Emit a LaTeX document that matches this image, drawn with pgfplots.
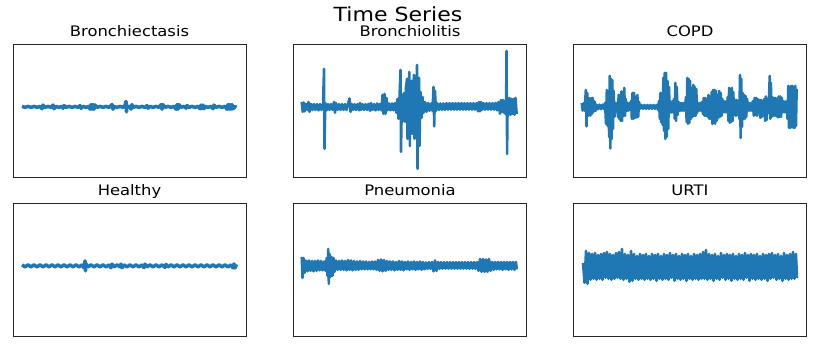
\documentclass[border=0pt]{standalone}
\usepackage{fontspec}
\setmainfont{DejaVu Sans}[FakeStretch=1.13]
\usepackage{pgfplots}
\pgfplotsset{compat=1.18}
\definecolor{mplblue}{HTML}{1F77B4}
\pgfplotsset{
  ts/.style={scale only axis, width=233pt, height=132.5pt,
    xmin=0, xmax=233, ymin=-70.3, ymax=62, ticks=none,
    axis line style={line width=0.9pt, black!85},
    title style={anchor=base, yshift=2.5pt, font=\fontsize{14.5}{17}\selectfont},
    anchor=north west},
  wave/.style={draw=mplblue, line width=2.5pt, line join=round, mark=none},
  flatwave/.style={draw=mplblue, line width=3.5pt, line join=round, mark=none}
}
\begin{document}
\begin{tikzpicture}
\path (0,0) rectangle (817pt,-343pt);
\node[anchor=base, font=\fontsize{19.5}{23}\selectfont] at (398pt,-21pt) {Time Series};

% Bronchiectasis
\begin{axis}[ts, at={(13pt,-44.8pt)}, title={Bronchiectasis}]
\addplot[flatwave] coordinates {
(9,0.5) (12,-0.5) (15,0.5) (18,-0.5) (21,0.5) (24,-0.5) (27,0.5) (29,-1.8) (30,1.8) (32,-0.5) (35,0.5) (38,-0.5) (40,1.8) (41,-1.8) (43,0.5) (46,-0.5) (49,0.5) (50,-1.4) (51,1.4) (53,-0.5) (56,0.5) (59,-0.5) (62,0.5) (65,-0.5) (67,1.3) (68,-1.4) (70,0.5) (73,-0.5) (76,0.5) (77,-2.3) (78,2.3) (79,-2.3) (80,2.3) (81,-2.3) (82,2) (84,-0.5) (87,0.5) (90,-0.5) (93,0.5) (96,-0.5) (99,2.3) (100,-2.3) (101,0.5) (104,-0.5) (107,0.5) (110,-0.5) (112,1.5) (113,5.5) (113.5,-5) (114,1.5) (115,-0.5) (117,0.5) (118,-2.3) (119,2.3) (120,-0.5) (123,0.5) (126,-0.5) (129,0.5) (132,-0.5) (134,1.3) (135,-1.3) (137,0.5) (140,-0.5) (143,0.5) (146,-0.5) (148,2.3) (149,-2.3) (150,2.3) (152,-0.5) (155,0.5) (158,-0.5) (161,0.5) (163,-2.3) (164,2.3) (165,-2.3) (166,2.3) (168,-0.5) (171,0.5) (173,-1.3) (174,1.3) (176,-0.5) (179,0.5) (182,-0.5) (185,0.5) (187,-1.8) (188,1.8) (189,-1.8) (190,1.8) (191,-1.8) (192,0.5) (195,-0.5) (198,0.5) (200,-1.8) (201,1.8) (203,-0.5) (206,0.5) (209,-0.5) (212,0.5) (214,-2.3) (215,2.3) (216,-2.3) (217,2.3) (218,-2.3) (219,2.3) (220,-2) (222,0.5) (223.5,-0.5)
};
\end{axis}

% Bronchiolitis
\begin{axis}[ts, at={(293.5pt,-44.8pt)}, title={Bronchiolitis}]
\addplot[wave] coordinates {
(8.2,5) (9.2,-5) (10.2,4.5) (11.2,-4.5) (12.5,3) (14,-3) (15,5) (16,-5) (17.5,3) (19,-3) (20.5,2.8) (22,-3) (23.5,2.8) (25,-3.5) (26.5,2.8) (28,-3) (29.5,3) (30.5,38) (31,-42) (31.8,4) (33,-3.5) (34.5,2.8) (36,-3) (37.5,2.8) (39,-3) (40.5,5) (41.5,-6) (42.5,4) (44,-3) (45.5,2.8) (47,-3) (48.5,2.8) (50,-3) (51.5,2.8) (53,-3) (54.5,3) (56,8.5) (57,-5) (58,3) (59.5,-3) (61,2.8) (62.5,-3) (64,2.8) (65.5,-3.5) (66.5,4) (67.5,-3) (69,2.8) (70.5,-3) (72,2.8) (73.5,-3) (75,3) (76.5,-4) (77.5,4) (79,-3) (80.5,2.8) (82,-3.5) (83.5,3.5) (85,-3) (86.5,3) (88,-3.5) (89,12) (90,-7) (91,13) (92,-7) (93,9) (94,-3.5) (95.5,3.5) (97,-3.5) (98.5,3.5) (100,-3.5) (101.5,4) (103,-6) (104,8) (105,-12) (106,10) (107,37) (107.5,-45) (108.5,12) (109.5,-14) (110.5,14) (111.5,-15) (112.5,20) (113.5,28) (114,-32) (115,20) (115.8,35) (116.3,-39) (117,22) (118,26) (118.5,-27) (119.5,18) (120.5,32) (121,-32) (122,20) (123,-25) (123.5,42) (124,-62) (124.5,25) (125.5,29) (126,-39) (127,15) (128,-11) (129,10) (130,-6) (131.5,5) (133,-5) (134.5,4) (136,-4) (137.5,3.5) (139,-4) (140,20) (140.7,-19.5) (141.5,16) (142.5,-4) (144,3.5) (145.5,-3) (147,3.5) (148.5,-3) (150,3.5) (151.5,-3) (153,3.8) (154.5,-2.8) (156,3.8) (157.5,-2.8) (159,3.8) (160.5,-2.8) (162,3.8) (163.5,-2.8) (165,3.8) (166.5,-2.8) (168,3.8) (169.5,-2.8) (171,3.8) (172.5,-2.8) (174,3.8) (175.5,-2.8) (177,3.8) (178.5,-2.8) (180,3.8) (181.5,-2.8) (183,3.8) (184.5,-4.5) (185.5,5) (186.5,-4.5) (187.5,5) (188.5,-3) (190,3.8) (191.5,-2.8) (193,3.8) (194.5,-2.8) (196,3.8) (197.5,-2.8) (199,3.8) (200.5,-2.8) (202,4) (203.5,-3.5) (205,5) (206.5,-7) (207.5,7) (208.5,-5) (209.5,7) (210.5,-6) (211.5,6) (212.5,-8) (213,56) (213.6,-47) (214.2,9) (215,-8) (216,9) (217,-8) (218,8) (219,-7) (220,8) (221,-8) (222,9) (223.2,-7)
};
\end{axis}

% COPD
\begin{axis}[ts, at={(573.5pt,-44.8pt)}, title={COPD}]
\addplot[wave] coordinates {
(8.2,3.8) (9.2,-3.8) (10.2,3.8) (11.2,-3.8) (12.3,17) (13,-19.5) (13.8,14) (14.8,-8.8) (15.8,8.8) (16.8,-8.8) (17.8,8.8) (18.5,-7) (19.2,9) (20,-5) (21,5.5) (22,-4) (23,2.3) (24.5,-2.3) (26,2.3) (27.5,-2.3) (29,2.3) (30.5,-2.3) (31.5,4) (32.5,-17) (33.3,17) (34.1,-19) (34.9,15) (35.6,-30) (36.2,31) (36.8,-41.5) (37.4,28) (38.1,-32) (38.8,27) (39.5,-22) (40.2,16) (41,-10) (41.8,4) (42.6,-4) (43.5,4) (44.4,-10) (45.1,12) (45.8,-12) (46.5,12) (47.2,-14) (47.9,15.5) (48.6,-14) (49.4,12) (50.1,-9) (50.8,19) (51.5,-9) (52.3,8) (53.2,-4) (54,4) (54.8,-4) (55.8,4) (56.8,-3) (57.6,6) (58.3,-12) (59,14) (59.8,-12) (60.6,14) (61.4,-11) (62.3,10) (63.1,-10.5) (63.9,12) (64.7,-10) (65.6,5) (66.5,-2) (68,2) (69.5,-2) (71,2) (72.5,-2) (74,2) (75.5,-2) (77,2) (78.5,-2) (80,2) (81.5,-2) (83,2) (84.5,-3) (85.5,6) (86.3,-12) (87,14) (87.7,-15.5) (88.4,14) (89.1,-18) (89.8,29) (90.5,-24) (91.2,34) (91.9,-32) (92.6,34) (93.3,-30) (94,26) (94.8,-22) (95.5,20) (96.3,-6) (97.1,5.5) (97.9,-5.5) (98.7,5.5) (99.5,-5.5) (100.4,8) (101.2,-12) (101.9,24) (102.6,-14) (103.3,20) (104.1,-8) (105,5) (105.8,-4) (106.6,4) (107.5,-4) (108.5,4) (109.5,-4) (110.5,4) (111.5,-4) (112.4,10) (113.1,-15) (113.8,29) (114.5,-17) (115.2,28) (115.9,-16) (116.6,26) (117.4,-12) (118.2,19) (119,-10) (119.8,22) (120.5,-9) (121.2,20) (122,-9) (122.8,18) (123.6,-6) (124.5,4) (125.5,-4) (126.5,4) (127.5,-4) (128.5,5) (129.4,-7) (130.2,9) (131,-9) (131.8,9) (132.6,-9) (133.4,8) (134.2,-10) (135,12) (135.8,-12) (136.6,10) (137.4,-12) (138.2,15) (138.9,-17) (139.6,17) (140.3,-16) (141,17) (141.7,-17) (142.4,16) (143.2,-14) (144,12) (144.8,-11) (145.6,16) (146.4,-10) (147.2,14) (148,-9) (148.9,8) (149.8,-5.5) (150.7,5.5) (151.6,-5.5) (152.5,5.5) (153.4,-5.5) (154.2,10) (154.9,-14) (155.6,19) (156.3,-16) (157,17) (157.7,-15) (158.4,19) (159.1,-14) (159.8,15) (160.6,-8) (161.5,7) (162.4,-9) (163.3,7) (164.2,-8) (165,6) (165.8,-12) (166.5,32) (167.1,-31) (167.8,28) (168.5,-20) (169.2,14) (169.9,-12) (170.6,12) (171.3,-12) (172,11) (172.8,-10) (173.6,8) (174.5,-4) (175.5,4) (176.5,-4) (177.5,4) (178.5,-4) (179.5,6) (180.3,-9) (181.1,9) (181.9,-8) (182.7,9) (183.5,-9) (184.3,8) (185.1,-6) (186,7) (186.8,-11) (187.6,7) (188.4,-10) (189.2,6) (190,-8) (190.8,8) (191.6,-14) (192.4,10.5) (193.2,-13) (194,8) (194.8,-6) (195.6,12) (196.2,31) (196.8,-12) (197.4,24) (198.1,-10) (198.8,10) (199.6,-9) (200.4,9) (201.2,-9) (202,9) (202.8,-9) (203.6,8) (204.4,-10.5) (205.2,10.5) (206,-10) (206.8,10.5) (207.6,-10) (208.4,9) (209.2,-5.5) (210,5.5) (210.8,-5.5) (211.6,5.5) (212.4,-5.5) (213.2,5.5) (214,-12) (214.8,21) (215.5,-21) (216.2,20) (216.9,-21) (217.6,21) (218.3,-20) (219,21) (219.7,-21) (220.4,20) (221.1,-21) (221.8,21) (222.5,-19) (223.2,18)
};
\end{axis}

% Healthy
\begin{axis}[ts, at={(13pt,-203.8pt)}, title={Healthy}]
\addplot[flatwave] coordinates {
(9,1) (12,-1) (15,1) (18,-1) (21,1) (24,-1) (27,1) (30,-1) (33,1) (36,-1) (39,1) (42,-1) (45,1) (48,-1) (51,1) (54,-1) (57,1) (60,-1) (63,1) (66,-1) (69,1) (71,-2) (72,5) (72.5,-5) (73,2) (75,-1) (78,1) (81,-1) (84,1) (87,-1) (90,1) (93,-1) (96,1) (98,-1.8) (99,1.8) (101,-1) (104,1) (107,-1) (108,1.8) (109,-1.8) (111,1) (114,-1) (117,1) (120,-1) (123,1) (126,-1) (129,1) (131,-1.8) (132,1.8) (134,-1) (137,1) (140,-1) (143,1) (146,-1) (149,1) (152,-1.5) (153,1.5) (155,-1) (158,1) (161,-1) (164,1) (167,-1) (170,1) (173,-1) (176,1) (179,-1) (182,1) (185,-1) (188,1) (191,-1) (194,1) (197,-1) (200,1) (203,-1) (206,1) (209,-1) (212,1) (215,-1) (218,1) (220,-2) (221,2) (222,-2) (223.5,1.5)
};
\end{axis}

% Pneumonia
\begin{axis}[ts, at={(293.5pt,-203.8pt)}, title={Pneumonia}]
\addplot[wave] coordinates {
(8.2,9) (9,-12) (10,8) (11,-7) (12.5,5.5) (14,-5.5) (15.5,5.5) (17,-5) (18.5,5) (20,-5.5) (21.5,5) (23,-5) (24.5,5.5) (26,-4.5) (27.5,5) (29,-4.5) (30.5,4.5) (32,-5) (33.2,8) (34,-10) (34.7,17) (35.3,-18) (36,12) (37,-11) (38,9) (39,-10) (40,8) (41,-6) (42.5,5.5) (44,-4) (45.5,5) (47,-4) (48.5,5.5) (50,-4) (51.5,5) (53,-4.5) (54.5,6) (56,-4) (57.5,5.5) (59,-4.5) (60.5,5) (62,-4) (63.5,4.5) (65,-4) (66.5,5) (68,-3.5) (69.5,4.5) (71,-3.5) (72.5,4.5) (74,-3.5) (75.5,4) (77,-3.5) (78.5,4.5) (80,-3.5) (81.5,4.5) (83,-4) (84.5,6) (86,-5) (87.5,6.5) (89,-5.5) (90.5,6) (92,-5) (93.5,5) (95,-4) (96.5,4.5) (98,-4) (99.5,4.5) (101,-4.5) (102.5,4) (104,-4) (105.5,5) (107,-4) (108.5,4.5) (110,-4.5) (111.5,4) (113,-3.5) (114.5,4.5) (116,-4) (117.5,4) (119,-3.5) (120.5,4.5) (122,-4) (123.5,4) (125,-3.5) (126.5,4.5) (128,-4) (129.5,4) (131,-3.5) (132.5,3.5) (134,-3) (135.5,3.8) (137,-3) (138.5,4) (140,-5.5) (141.5,5.5) (143,-5) (144.5,4) (146,-3) (147.5,3.8) (149,-2.8) (150.5,3.8) (152,-2.8) (153.5,3.8) (155,-2.8) (156.5,3.8) (158,-2.8) (159.5,3.8) (161,-2.8) (162.5,3.8) (164,-2.8) (165.5,3.8) (167,-2.8) (168.5,3.8) (170,-2.8) (171.5,3.8) (173,-2.8) (174.5,3.8) (176,-3) (177.5,3.8) (179,-2.8) (180.5,3.8) (182,-3) (183.5,4) (185,-5) (186.5,7) (188,-6) (189.5,7) (191,-6) (192.5,6.5) (194,-6) (195.5,7) (197,-5) (198.5,4) (200,-4) (201.5,4) (203,-3.5) (204.5,4) (206,-3.5) (207.5,4) (209,-4) (210.5,4) (212,-3.5) (213.5,4) (215,-4) (216.5,4) (218,-3.5) (219.5,4) (221,-4) (222.5,4) (223.3,-3.5)
};
\end{axis}

% URTI
\begin{axis}[ts, at={(573.5pt,-203.8pt)}, title={URTI}]
\addplot[wave] coordinates {
(9.5,3) (11,-17) (12.5,15) (14,-18) (15.5,13) (17,-14) (18.5,12) (20,-13) (21.5,13) (23,-14) (24.5,11) (26,-13) (27.5,12) (29,-14) (30.5,13) (32,-12) (33.5,14) (35,-13) (36.5,12) (38,-14) (39.5,11) (41,-13) (42.5,13) (44,-12) (45.5,14) (47,-13) (48.5,17) (50,-14) (51.5,12) (53,-13) (54.5,11) (56,-16) (57.5,15) (59,-15) (60.5,12) (62,-13) (63.5,10) (65,-14) (66.5,12) (68,-13) (69.5,11) (71,-14) (72.5,12) (74,-13) (75.5,10) (77,-14) (78.5,12) (80,-13) (81.5,11) (83,-15) (84.5,12) (86,-13) (87.5,10) (89,-14) (90.5,12) (92,-13) (93.5,11) (95,-14) (96.5,13) (98,-12) (99.5,11) (101,-15) (102.5,12) (104,-13) (105.5,10) (107,-14) (108.5,12) (110,-13) (111.5,11) (113,-15) (114.5,12) (116,-13) (117.5,10) (119,-14) (120.5,12) (122,-13) (123.5,11) (125,-14) (126.5,12) (128,-13) (129.5,14) (131,-13) (132.5,16) (134,-14) (135.5,12) (137,-13) (138.5,11) (140,-15) (141.5,12) (143,-13) (144.5,10) (146,-14) (147.5,13) (149,-12) (150.5,11) (152,-14) (153.5,12) (155,-13) (156.5,11) (158,-15) (159.5,12) (161,-13) (162.5,10) (164,-14) (165.5,12) (167,-13) (168.5,11) (170,-14) (171.5,13) (173,-12) (174.5,11) (176,-15) (177.5,12) (179,-13) (180.5,11) (182,-14) (183.5,12) (185,-13) (186.5,10) (188,-14) (189.5,12) (191,-13) (192.5,11) (194,-15) (195.5,12) (197,-13) (198.5,13) (200,-12) (201.5,11) (203,-14) (204.5,12) (206,-13) (207.5,10) (209,-15) (210.5,13) (212,-13) (213.5,11) (215,-14) (216.5,12) (218,-13) (219.5,14) (221,-13) (222.5,12) (223.5,-12)
};
\end{axis}
\end{tikzpicture}
\end{document}
